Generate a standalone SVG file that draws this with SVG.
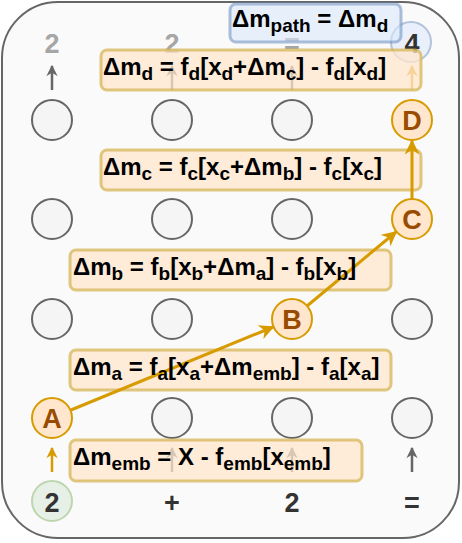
<svg xmlns="http://www.w3.org/2000/svg" width="462" height="543" viewBox="0 0 462 543">
<defs>
<marker id="ah-o" viewBox="0 0 10 10" refX="9" refY="5" markerWidth="5" markerHeight="5" orient="auto" markerUnits="strokeWidth"><path d="M0,0 L10,5 L0,10 L3,5 Z" fill="#d79b00"/></marker>
<marker id="ah-g" viewBox="0 0 10 10" refX="9" refY="5" markerWidth="4.5" markerHeight="4.5" orient="auto" markerUnits="strokeWidth"><path d="M0,0 L10,5 L0,10 L3,5 Z" fill="#666666"/></marker>
<marker id="ah-o2" viewBox="0 0 10 10" refX="9" refY="5" markerWidth="4.5" markerHeight="4.5" orient="auto" markerUnits="strokeWidth"><path d="M0,0 L10,5 L0,10 L3,5 Z" fill="#d79b00"/></marker>
</defs>
<style>
.n{fill:#f5f5f5;stroke:#666666;stroke-width:2}
.h{fill:#ffe6cc;stroke:#d79b00;stroke-width:2}
.hl{font-family:"Liberation Sans",Arial,sans-serif;font-weight:bold;font-size:27px;fill:#994c00;text-anchor:middle}
.lbl{font-family:"Liberation Sans",Arial,sans-serif;font-weight:bold;font-size:27px;fill:#333333;text-anchor:middle}
.f{fill:#ffe6cc;fill-opacity:0.75;stroke:#d6b656;stroke-opacity:0.75;stroke-width:3}
.ft{font-family:"Liberation Sans",Arial,sans-serif;font-weight:bold;font-size:24px;fill:#000000}
.s{font-size:19px}
.ga{stroke:#666666;stroke-width:2.5;fill:none;marker-end:url(#ah-g)}
.oa{stroke:#d79b00;stroke-width:2.5;fill:none;marker-end:url(#ah-o2)}
.pa{stroke:#d79b00;stroke-width:3;fill:none;marker-end:url(#ah-o)}
</style>
<rect x="2" y="2" width="457" height="536" rx="56" ry="56" fill="#fafafa" stroke="#666666" stroke-width="2"/>

<g id="top-labels">
<text class="lbl" x="52" y="53" opacity="0.42">2</text>
<text class="lbl" x="172" y="53" opacity="0.42">2</text>
<text class="lbl" x="292" y="53" opacity="0.42">=</text>
<circle cx="411" cy="42" r="20" fill="#dae8fc" stroke="#6c8ebf" stroke-width="2" opacity="0.5"/>
<text class="lbl" x="412" y="53">4</text>
</g>
<g id="bottom-labels">
<circle cx="52" cy="501" r="20" fill="#d5e8d4" stroke="#82b366" stroke-width="2" opacity="0.5"/>
<text class="lbl" x="52" y="512">2</text>
<text class="lbl" x="172" y="512">+</text>
<text class="lbl" x="292" y="512">2</text>
<text class="lbl" x="412" y="512">=</text>
</g>

<g id="nodes">
<circle id="n11" class="n" cx="52" cy="120" r="20"/>
<circle id="n12" class="n" cx="172" cy="120" r="20"/>
<circle id="n13" class="n" cx="292" cy="120" r="20"/>
<circle id="n21" class="n" cx="52" cy="219" r="20"/>
<circle id="n22" class="n" cx="172" cy="219" r="20"/>
<circle id="n23" class="n" cx="292" cy="219" r="20"/>
<circle id="n31" class="n" cx="52" cy="319" r="20"/>
<circle id="n32" class="n" cx="172" cy="319" r="20"/>
<circle id="n34" class="n" cx="412" cy="319" r="20"/>
<circle id="n42" class="n" cx="172" cy="418" r="20"/>
<circle id="n43" class="n" cx="292" cy="418" r="20"/>
<circle id="n44" class="n" cx="412" cy="418" r="20"/>
<g id="A"><circle class="h" cx="52" cy="418" r="20"/><text class="hl" x="52" y="428">A</text></g>
<g id="B"><circle class="h" cx="292" cy="319" r="20"/><text class="hl" x="292" y="329">B</text></g>
<g id="C"><circle class="h" cx="412" cy="219" r="20"/><text class="hl" x="412" y="229">C</text></g>
<g id="D"><circle class="h" cx="412" cy="120" r="20"/><text class="hl" x="412" y="130">D</text></g>
</g>

<g id="io-arrows">
<line class="ga" x1="52" y1="90" x2="52" y2="66"/>
<line class="ga" x1="172" y1="90" x2="172" y2="66"/>
<line class="ga" x1="292" y1="90" x2="292" y2="66"/>
<line class="oa" x1="412" y1="90" x2="412" y2="66"/>
<line class="oa" x1="52" y1="472" x2="52" y2="448"/>
<line class="ga" x1="172" y1="472" x2="172" y2="448"/>
<line class="ga" x1="292" y1="472" x2="292" y2="448"/>
<line class="ga" x1="412" y1="472" x2="412" y2="448"/>
</g>

<g id="formula-boxes">
<rect class="f" x="101" y="50" width="320" height="40" rx="6"/>
<rect class="f" x="101" y="150" width="320" height="40" rx="6"/>
<rect class="f" x="70" y="250" width="321" height="40" rx="6"/>
<rect class="f" x="70" y="350" width="321" height="40" rx="6"/>
<rect class="f" x="70" y="440" width="292" height="41" rx="6"/>
<rect x="230" y="4" width="171" height="38" rx="6" fill="#dae8fc" fill-opacity="0.6" stroke="#6c8ebf" stroke-opacity="0.55" stroke-width="3"/>
</g>

<g id="connectors">
<line class="pa" x1="71" y1="410" x2="273" y2="327"/>
<line class="pa" x1="307" y1="306" x2="396" y2="232"/>
<line class="pa" x1="412" y1="199" x2="412" y2="141"/>
</g>

<g id="formulas">
<text class="ft" x="103" y="75">Δm<tspan class="s" dy="5">d</tspan><tspan dy="-5"> = f</tspan><tspan class="s" dy="5">d</tspan><tspan dy="-5">[x</tspan><tspan class="s" dy="5">d</tspan><tspan dy="-5">+Δm</tspan><tspan class="s" dy="5">c</tspan><tspan dy="-5">] - f</tspan><tspan class="s" dy="5">d</tspan><tspan dy="-5">[x</tspan><tspan class="s" dy="5">d</tspan><tspan dy="-5">]</tspan></text>
<text class="ft" x="103" y="175">Δm<tspan class="s" dy="5">c</tspan><tspan dy="-5"> = f</tspan><tspan class="s" dy="5">c</tspan><tspan dy="-5">[x</tspan><tspan class="s" dy="5">c</tspan><tspan dy="-5">+Δm</tspan><tspan class="s" dy="5">b</tspan><tspan dy="-5">] - f</tspan><tspan class="s" dy="5">c</tspan><tspan dy="-5">[x</tspan><tspan class="s" dy="5">c</tspan><tspan dy="-5">]</tspan></text>
<text class="ft" x="73" y="275">Δm<tspan class="s" dy="5">b</tspan><tspan dy="-5"> = f</tspan><tspan class="s" dy="5">b</tspan><tspan dy="-5">[x</tspan><tspan class="s" dy="5">b</tspan><tspan dy="-5">+Δm</tspan><tspan class="s" dy="5">a</tspan><tspan dy="-5">] - f</tspan><tspan class="s" dy="5">b</tspan><tspan dy="-5">[x</tspan><tspan class="s" dy="5">b</tspan><tspan dy="-5">]</tspan></text>
<text class="ft" x="73" y="375">Δm<tspan class="s" dy="5">a</tspan><tspan dy="-5"> = f</tspan><tspan class="s" dy="5">a</tspan><tspan dy="-5">[x</tspan><tspan class="s" dy="5">a</tspan><tspan dy="-5">+Δm</tspan><tspan class="s" dy="5">emb</tspan><tspan dy="-5">] - f</tspan><tspan class="s" dy="5">a</tspan><tspan dy="-5">[x</tspan><tspan class="s" dy="5">a</tspan><tspan dy="-5">]</tspan></text>
<text class="ft" x="73" y="465">Δm<tspan class="s" dy="5">emb</tspan><tspan dy="-5"> = X - f</tspan><tspan class="s" dy="5">emb</tspan><tspan dy="-5">[x</tspan><tspan class="s" dy="5">emb</tspan><tspan dy="-5">]</tspan></text>
<text class="ft" x="232" y="27">Δm<tspan class="s" dy="5">path</tspan><tspan dy="-5"> = Δm</tspan><tspan class="s" dy="5">d</tspan></text>
</g>
</svg>
